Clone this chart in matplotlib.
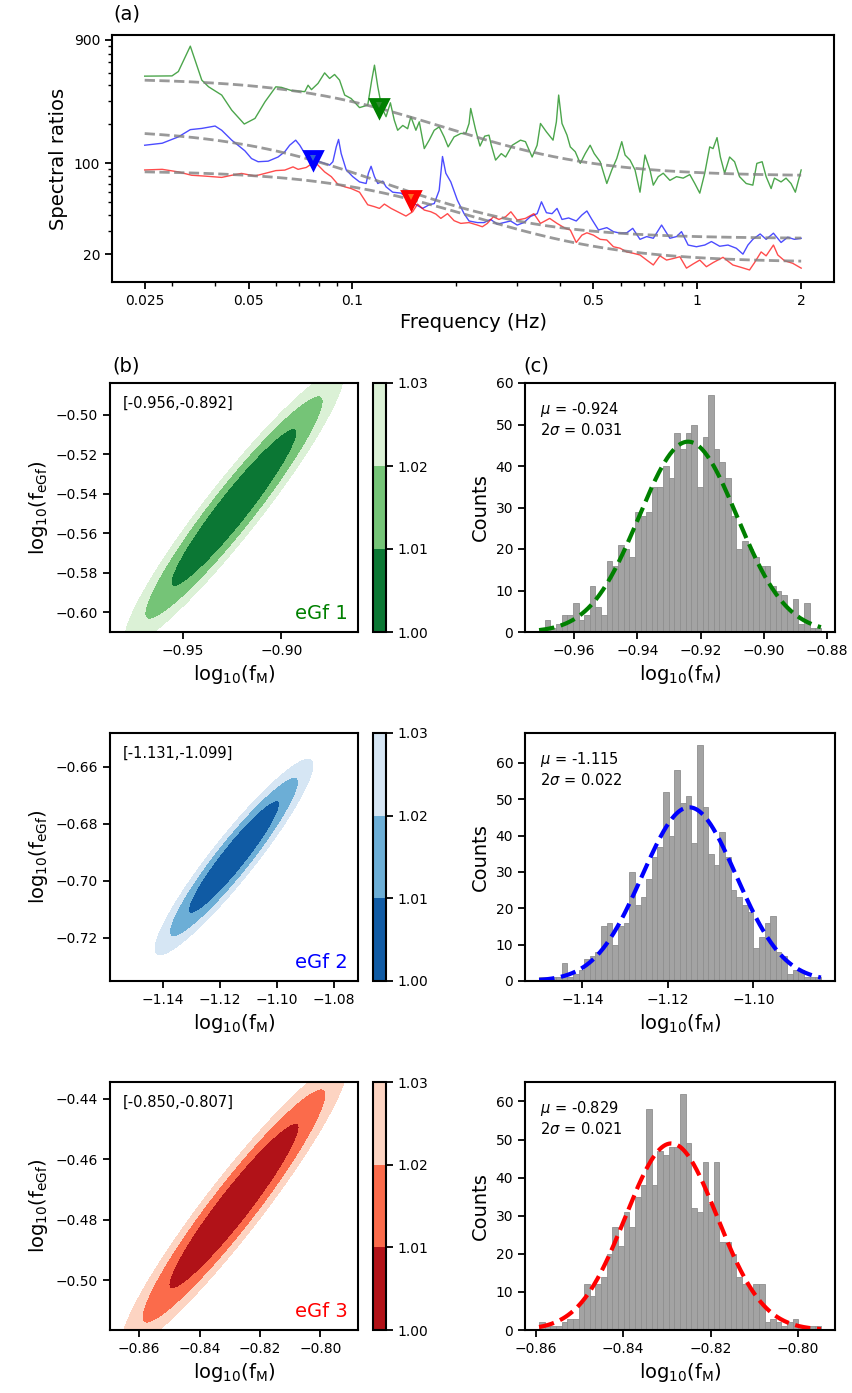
import numpy as np
import matplotlib
matplotlib.use('Agg')
import matplotlib.pyplot as plt
from matplotlib.ticker import FixedLocator, NullFormatter, LogLocator, FuncFormatter

# ---------------- data: panel (a) spectral ratios ----------------
green_f = [0.025, 0.030, 0.0313, 0.0339, 0.035, 0.0366, 0.0383, 0.0418, 0.0447, 0.0486,
           0.0522, 0.0558, 0.060, 0.0623, 0.0666, 0.0728, 0.0744, 0.0761, 0.0795, 0.0831,
           0.0859, 0.0888, 0.0918, 0.095, 0.0992, 0.1049, 0.1108, 0.1138, 0.1159, 0.1185,
           0.1217, 0.1252, 0.1289, 0.1323, 0.1353, 0.14, 0.1446, 0.1478, 0.1528, 0.1563,
           0.1616, 0.167, 0.1727, 0.1785, 0.1845, 0.1895, 0.1972, 0.2062, 0.2131, 0.2179,
           0.2203, 0.2278, 0.2344, 0.2418, 0.2489, 0.2528, 0.2601, 0.2702, 0.2781, 0.2907,
           0.3072, 0.3175, 0.332, 0.3432, 0.351, 0.3652, 0.3817, 0.3903, 0.3963, 0.4052,
           0.419, 0.4283, 0.4427, 0.4577, 0.4732, 0.489, 0.5024, 0.5228, 0.5465, 0.565,
           0.584, 0.6039, 0.6174, 0.6383, 0.6598, 0.682, 0.7051, 0.729, 0.7453, 0.7704,
           0.7965, 0.8327, 0.8703, 0.9098, 0.9511, 0.9832, 1.0165, 1.0508, 1.0862, 1.1107,
           1.1406, 1.1662, 1.2, 1.2405, 1.2823, 1.3257, 1.3857, 1.4485, 1.4876, 1.5415,
           1.583, 1.6366, 1.6732, 1.7488, 1.808, 1.869, 1.9237, 2.0]
green_v = [470, 472, 510, 800, 623, 438, 389, 336, 257, 201,
           222, 298, 389, 385, 364, 357, 400, 370, 413, 498,
           451, 484, 438, 336, 316, 269, 281, 438, 571, 389,
           269, 229, 293, 215, 180, 196, 185, 229, 180, 209,
           130, 151, 180, 191, 160, 134, 160, 170, 170, 203,
           265, 180, 136, 162, 165, 138, 106, 119, 112, 138,
           151, 147, 112, 138, 203, 175, 151, 209, 336, 203,
           165, 134, 123, 100, 119, 138, 119, 103, 70, 89,
           109, 147, 116, 106, 89, 60, 116, 89, 68, 79,
           84, 74, 79, 77, 82, 70, 59, 84, 134, 130,
           158, 112, 84, 112, 103, 79, 70, 68, 100, 103,
           79, 64, 77, 72, 77, 70, 60, 89]

blue_f = [0.025, 0.0281, 0.0313, 0.0339, 0.0366, 0.040, 0.0418, 0.0447, 0.0488, 0.0510,
          0.0533, 0.057, 0.0609, 0.0637, 0.0658, 0.0685, 0.0704, 0.0728, 0.0761, 0.0795,
          0.0831, 0.0859, 0.0878, 0.0898, 0.0912, 0.0928, 0.096, 0.1003, 0.1049, 0.1096,
          0.1113, 0.1133, 0.1159, 0.1185, 0.1225, 0.1252, 0.1309, 0.1384, 0.1446, 0.1511,
          0.1598, 0.167, 0.1727, 0.1785, 0.1825, 0.1866, 0.1929, 0.2016, 0.2108, 0.2179,
          0.2303, 0.2408, 0.2517, 0.2631, 0.275, 0.2875, 0.3005, 0.3142, 0.3284, 0.3433,
          0.3533, 0.3652, 0.3792, 0.392, 0.4052, 0.4236, 0.4457, 0.4627, 0.4785, 0.4947,
          0.517, 0.5465, 0.5713, 0.5973, 0.6243, 0.6498, 0.682, 0.7132, 0.7455, 0.7878,
          0.8327, 0.8703, 0.8998, 0.9405, 0.9942, 1.0508, 1.0988, 1.161, 1.2273, 1.297,
          1.356, 1.4018, 1.4485, 1.521, 1.583, 1.662, 1.749, 1.828, 1.911, 2.0]
blue_v = [138, 143, 160, 182, 186, 194, 180, 151, 125, 109,
          103, 104, 112, 123, 138, 151, 138, 119, 109, 104,
          100, 97, 103, 134, 153, 119, 89, 79, 72, 70,
          84, 95, 79, 70, 73, 66, 60, 59, 54, 49,
          45, 48, 49, 62, 113, 84, 72, 52, 41, 36,
          35, 35, 37, 34, 35, 36, 33.5, 35, 39, 41,
          50.6, 41.7, 41, 45, 37, 38, 36, 40, 43, 37,
          30.7, 32, 29.8, 29, 29.2, 31.6, 26, 27.3, 26.5, 33.5,
          26.5, 27.3, 29.8, 23.5, 22.8, 23.5, 25, 23, 23.5, 22.2,
          20, 23.5, 26, 28.6, 26, 29, 24.6, 27, 26, 26.5]

red_f = [0.025, 0.0281, 0.0313, 0.0342, 0.0374, 0.0418, 0.0447, 0.0477, 0.0522, 0.0558,
         0.060, 0.0637, 0.0673, 0.0696, 0.0735, 0.0778, 0.0804, 0.0831, 0.0869, 0.0908,
         0.095, 0.0992, 0.1049, 0.1108, 0.1159, 0.1198, 0.1238, 0.1295, 0.1353, 0.143,
         0.1495, 0.1545, 0.1616, 0.1689, 0.1746, 0.1805, 0.1887, 0.1972, 0.2062, 0.2179,
         0.2303, 0.2381, 0.2462, 0.2562, 0.266, 0.2781, 0.2881, 0.3005, 0.3175, 0.3358,
         0.351, 0.3732, 0.392, 0.4142, 0.4283, 0.4457, 0.4627, 0.4785, 0.5, 0.5228,
         0.5465, 0.5713, 0.5973, 0.6243, 0.6523, 0.682, 0.7132, 0.7455, 0.779, 0.8143,
         0.8513, 0.8898, 0.9302, 0.9723, 1.0165, 1.0625, 1.1107, 1.187, 1.268, 1.341,
         1.417, 1.465, 1.531, 1.583, 1.662, 1.711, 1.789, 1.89, 2.0]
red_v = [89, 90, 86, 81, 79.8, 78, 81, 83.7, 80, 83.7,
         88, 88.8, 94, 90, 93, 103, 94, 86, 79, 69,
         66, 64, 60, 48, 46.4, 45, 48.6, 45, 42.4, 39.3,
         42.4, 48.6, 43.7, 42.4, 40.7, 37.7, 41, 36.2, 34.5, 35,
         33.5, 32.5, 34.5, 38.8, 37, 38.8, 42.4, 36.6, 37.7, 41,
         34.5, 37.7, 34.5, 31.6, 30.7, 24.6, 28, 29.2, 28, 26,
         25.7, 22.8, 22.2, 20.8, 20.3, 19.7, 18, 16.5, 19.4, 18,
         18.5, 19.1, 15.6, 16.8, 18, 16, 17.2, 18.9, 16.5, 15.8,
         15.1, 17.2, 20.8, 19.4, 23.5, 19.7, 17.8, 17, 15.6]

# fitted source-ratio model parameters (eGf 1, 2, 3)
egf_colors = ['g', 'b', 'r']
marker_inner = ['#2a8a2a', '#2f5fd8', '#ff6a20']
fit_omega = [453, 185, 88]
fit_log_fm = [-0.924, -1.115, -0.829]
fit_log_fe = [-0.547, -0.692, -0.4755]

# ---------------- data: panel (b) misfit ellipses ----------------
ell_cx = [-0.924, -1.115, -0.8286]
ell_cy = [-0.547, -0.6917, -0.4755]
ell_sx = [0.032, 0.016, 0.0215]
ell_sy = [0.040, 0.0198, 0.0274]
ell_rho = [0.95, 0.94, 0.95]
grid_half = [0.063, 0.0435, 0.041]
misfit_levels = [1.00, 1.01, 1.02, 1.03]
range_labels = ['[-0.956,-0.892]', '[-1.131,-1.099]', '[-0.850,-0.807]']
cmaps = ['Greens_r', 'Blues_r', 'Reds_r']
b_xticks = [[-0.95, -0.90], [-1.14, -1.12, -1.10, -1.08], [-0.86, -0.84, -0.82, -0.80]]
b_yticks = [[-0.60, -0.58, -0.56, -0.54, -0.52, -0.50], [-0.72, -0.70, -0.68, -0.66],
            [-0.50, -0.48, -0.46, -0.44]]

# ---------------- data: panel (c) histograms ----------------
hist_lo = [-0.9711, -1.1501, -0.85923]
hist_hi = [-0.8820, -1.0842, -0.79478]
counts1 = [1, 3, 1, 2, 4, 4, 7, 3, 4, 11, 6, 4, 17, 16, 21, 20, 18, 29, 28, 29,
           35, 35, 40, 37, 48, 44, 48, 50, 35, 47, 57, 44, 41, 37, 28, 20, 22, 20, 18, 16,
           16, 11, 10, 9, 5, 8, 2, 7, 1, 1]
counts2 = [1, 1, 1, 1, 5, 1, 2, 3, 6, 7, 8, 15, 16, 10, 15, 16, 30, 21, 23, 28,
           34, 37, 52, 40, 58, 49, 51, 38, 65, 48, 35, 32, 41, 34, 25, 23, 21, 19, 9, 12,
           16, 18, 8, 7, 2, 3, 3, 1, 1, 1]
counts3 = [2, 1, 1, 1, 2, 3, 3, 7, 12, 9, 12, 14, 20, 27, 22, 31, 27, 35, 38, 58,
           38, 47, 46, 48, 48, 62, 49, 32, 31, 44, 33, 44, 23, 23, 20, 14, 12, 11, 12, 12,
           2, 3, 2, 1, 2, 3, 1, 0, 1, 1]
hist_counts = [counts1, counts2, counts3]
hist_mu = [-0.924, -1.115, -0.829]
hist_2sigma = [0.031, 0.022, 0.021]
n_samples = 1000
c_xticks = [[-0.96, -0.94, -0.92, -0.90, -0.88], [-1.14, -1.12, -1.10], [-0.86, -0.84, -0.82, -0.80]]
egf_names = ['eGf 1', 'eGf 2', 'eGf 3']

# ---------------- figure ----------------
plt.rcParams.update({
    'font.family': ['DejaVu Sans'],
    'axes.linewidth': 1.5,
    'xtick.major.width': 1.3, 'ytick.major.width': 1.3,
    'xtick.major.size': 5, 'ytick.major.size': 5,
    'xtick.minor.width': 1.0, 'ytick.minor.width': 1.0,
    'xtick.minor.size': 3, 'ytick.minor.size': 3,
    'xtick.labelsize': 10, 'ytick.labelsize': 10,
    'axes.labelsize': 14,
})

W, H = 852, 1393
fig = plt.figure(figsize=(W / 100, H / 100), dpi=100)
fmt2 = FuncFormatter(lambda x, p: ('%.2f' % x).replace('-', '\u2212'))


def add_ax(l, t, r, b):
    return fig.add_axes([l / W, 1 - b / H, (r - l) / W, (b - t) / H])


# ---- panel (a)
ax = add_ax(112, 35, 834, 282)
ax.plot(green_f, green_v, color='g', alpha=0.7, lw=1)
ax.plot(blue_f, blue_v, color='b', alpha=0.7, lw=1)
ax.plot(red_f, red_v, color='r', alpha=0.7, lw=1)
fm_grid = np.logspace(np.log10(0.025), np.log10(2.0), 300)
for om, lfm, lfe in zip(fit_omega, fit_log_fm, fit_log_fe):
    fm, fe = 10 ** lfm, 10 ** lfe
    model = om * (1 + (fm_grid / fe) ** 2) / (1 + (fm_grid / fm) ** 2)
    ax.plot(fm_grid, model, '--', color='gray', alpha=0.8, lw=2)
for om, lfm, lfe, c, ci in zip(fit_omega, fit_log_fm, fit_log_fe, egf_colors, marker_inner):
    fm, fe = 10 ** lfm, 10 ** lfe
    yv = om * (1 + (fm / fe) ** 2) / 2.0
    ax.plot([fm], [yv], marker='v', ms=13, color=c, mfc=c, mec=c, mew=2, zorder=5)
    ax.plot([fm], [yv * 1.05], marker='v', ms=4, color=ci, mec=ci, mew=0, zorder=6)
ax.set_xscale('log')
ax.set_yscale('log')
ax.set_xlim(0.0201, 2.49)
ax.set_ylim(12.2, 975)
ax.xaxis.set_major_locator(FixedLocator([0.025, 0.05, 0.1, 0.5, 1, 2]))
ax.set_xticklabels(['0.025', '0.05', '0.1', '0.5', '1', '2'])
ax.xaxis.set_minor_locator(LogLocator(base=10, subs=np.arange(2, 10)))
ax.xaxis.set_minor_formatter(NullFormatter())
ax.yaxis.set_major_locator(FixedLocator([20, 100, 900]))
ax.set_yticklabels(['20', '100', '900'])
ax.yaxis.set_minor_locator(LogLocator(base=10, subs=np.arange(2, 10)))
ax.yaxis.set_minor_formatter(NullFormatter())
ax.set_xlabel('Frequency (Hz)')
ax.set_ylabel('Spectral ratios')
fig.text(113 / W, 1 - 24 / H, '(a)', fontsize=14, ha='left', va='bottom')

rows = [(383, 632), (733, 981), (1082, 1330)]
for i, (top, bot) in enumerate(rows):
    # ---- panel (b)
    axb = add_ax(110, top, 358, bot)
    h = grid_half[i]
    xg = np.linspace(ell_cx[i] - h, ell_cx[i] + h, 400)
    yg = np.linspace(ell_cy[i] - h, ell_cy[i] + h, 400)
    X, Y = np.meshgrid(xg, yg)
    u = (X - ell_cx[i]) / ell_sx[i]
    v = (Y - ell_cy[i]) / ell_sy[i]
    rho = ell_rho[i]
    Z = 1 + 0.01 * (u * u - 2 * rho * u * v + v * v) / (1 - rho ** 2)
    cf = axb.contourf(X, Y, Z, levels=misfit_levels, cmap=cmaps[i])
    axb.set_xlim(xg[0], xg[-1])
    axb.set_ylim(yg[0], yg[-1])
    axb.set_xticks(b_xticks[i])
    axb.set_yticks(b_yticks[i])
    axb.xaxis.set_major_formatter(fmt2)
    axb.yaxis.set_major_formatter(fmt2)
    axb.set_xlabel(r'log$_{10}$(f$_{\mathrm{M}}$)')
    axb.set_ylabel(r'log$_{10}$(f$_{\mathrm{eGf}}$)')
    axb.text(0.052, 0.92, range_labels[i], transform=axb.transAxes, fontsize=10.5,
             ha='left', va='center')
    axb.text(0.96, 0.075, egf_names[i], transform=axb.transAxes, fontsize=14,
             ha='right', va='center', color=egf_colors[i])
    cax = add_ax(373, top, 386, bot)
    cb = fig.colorbar(cf, cax=cax, ticks=misfit_levels, format='%.2f')
    cb.outline.set_linewidth(1.5)

    # ---- panel (c)
    axc = add_ax(525, top, 835, bot)
    edges = np.linspace(hist_lo[i], hist_hi[i], 51)
    axc.bar(edges[:-1], hist_counts[i], width=np.diff(edges), align='edge',
            color='#a3a3a3', edgecolor='#8f8f8f', linewidth=0.6)
    sig = hist_2sigma[i] / 2.0
    bw = edges[1] - edges[0]
    xs = np.linspace(hist_lo[i], hist_hi[i], 300)
    gy = n_samples * bw / (sig * np.sqrt(2 * np.pi)) * np.exp(-0.5 * ((xs - hist_mu[i]) / sig) ** 2)
    axc.plot(xs, gy, '--', color=egf_colors[i], lw=3)
    axc.set_xticks(c_xticks[i])
    axc.xaxis.set_major_formatter(fmt2)
    axc.set_yticks([0, 10, 20, 30, 40, 50, 60])
    axc.set_xlabel(r'log$_{10}$(f$_{\mathrm{M}}$)')
    axc.set_ylabel('Counts')
    axc.text(0.05, 0.93, r'$\mu$ = %.3f' % hist_mu[i] + '\n' + r'2$\sigma$ = %.3f' % hist_2sigma[i],
             transform=axc.transAxes, fontsize=10.5, ha='left', va='top')
    if i == 0:
        fig.text(112 / W, 1 - 376 / H, '(b)', fontsize=14, ha='left', va='bottom')
        fig.text(523 / W, 1 - 376 / H, '(c)', fontsize=14, ha='left', va='bottom')

fig.savefig('out.png', dpi=100)
